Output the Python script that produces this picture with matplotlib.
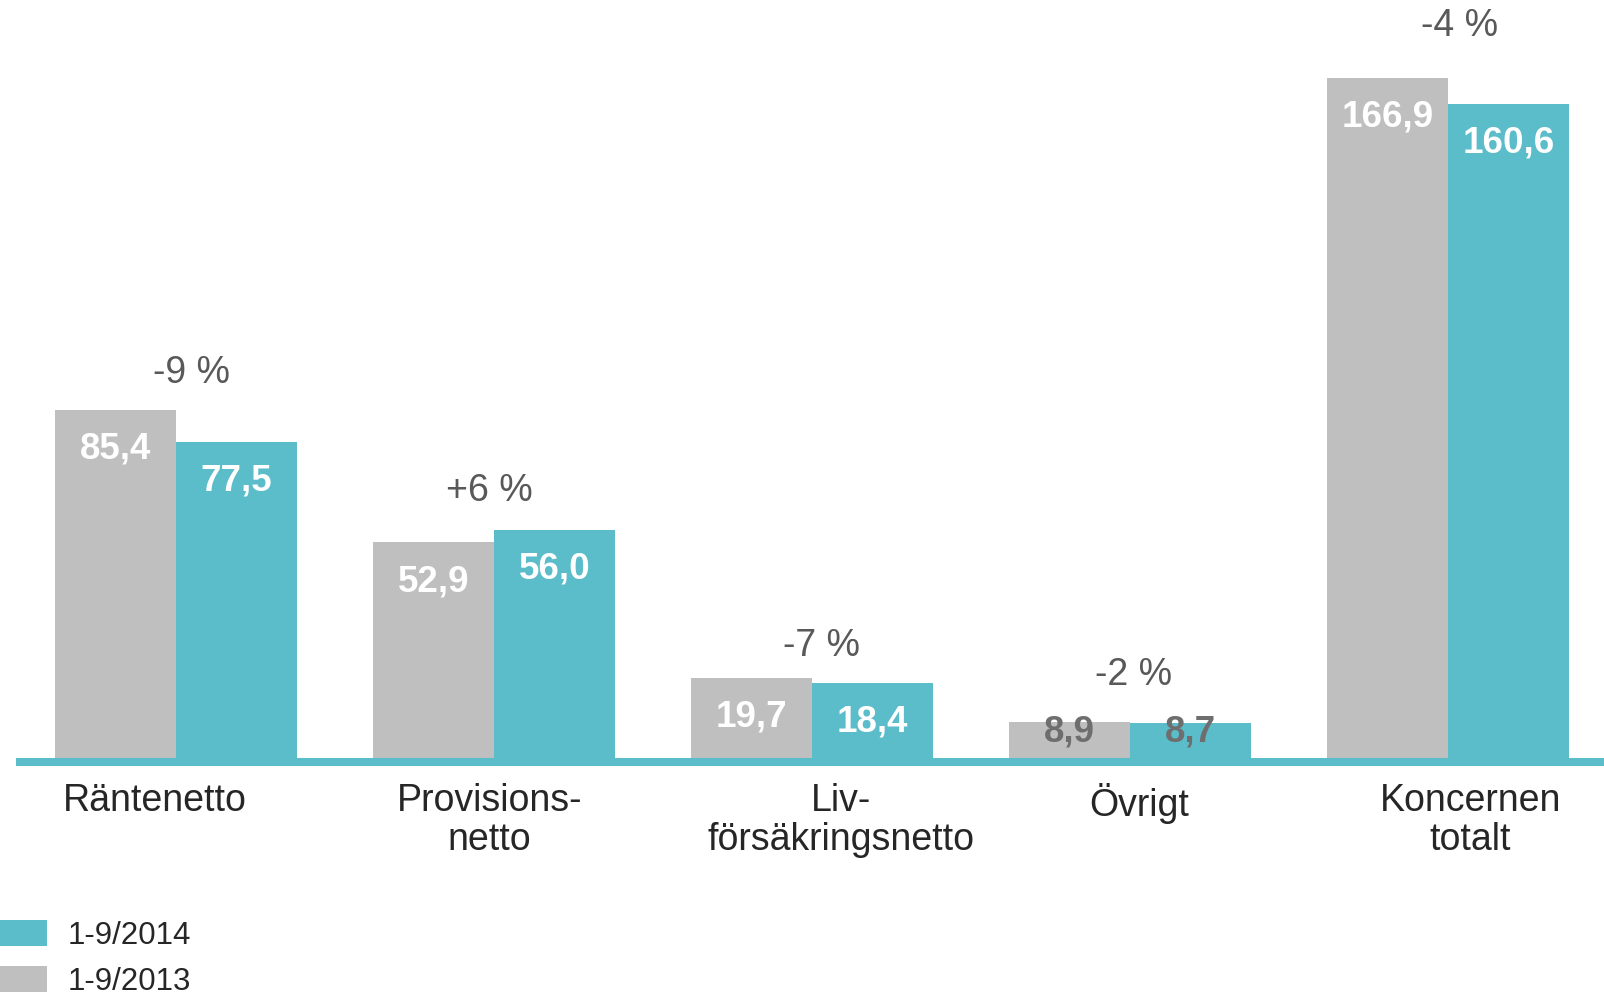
import matplotlib.pyplot as plt
import numpy as np

plt.rcParams['font.family'] = ['Liberation Sans', 'DejaVu Sans']

categories = ["Räntenetto", "Provisions-\nnetto", "Liv-\nförsäkringsnetto", "Övrigt", "Koncernen\ntotalt"]
values_2013 = [85.4, 52.9, 19.7, 8.9, 166.9]
values_2014 = [77.5, 56.0, 18.4, 8.7, 160.6]
changes = ["-9 %", "+6 %", "-7 %", "-2 %", "-4 %"]
series_names = ["1-9/2013", "1-9/2014"]

# layout tweaks (not data)
label_dx = [-0.065, -0.015, 0.09, 0.03, 0.07]
pct_dx = [0.05, -0.015, 0.03, 0.012, 0.035]
pct_gap = [9.0, 9.4, 7.9, 11.4, 12.7]

gray = "#BFBFBF"
teal = "#5BBCCA"

fig = plt.figure(figsize=(16.04, 9.93), dpi=100)
ax = fig.add_axes([16 / 1604, 235 / 993, 1588 / 1604, 758 / 993])

x = np.arange(len(categories))
w = 0.38
b13 = ax.bar(x - w / 2, values_2013, w, color=gray, label=series_names[0])
b14 = ax.bar(x + w / 2, values_2014, w, color=teal, label=series_names[1])

ax.set_xlim(-0.503, 4.49)
ax.set_ylim(0, 186.0)

# value labels inside bars
for bars, vals in ((b13, values_2013), (b14, values_2014)):
    for rect, v in zip(bars, vals):
        cx = rect.get_x() + rect.get_width() / 2
        y = max(v - 9.6, 6.4)
        col = "white" if v > 15 else "#6E6E6E"
        ax.text(cx, y, f"{v:.1f}".replace(".", ","), ha="center", va="center",
                fontsize=26.5, fontweight="bold", color=col)

# change labels above groups
for i, c in enumerate(changes):
    top = max(values_2013[i], values_2014[i])
    ax.text(x[i] + pct_dx[i], top + pct_gap[i], c, ha="center", va="center",
            fontsize=27, color="#595959", clip_on=False)

for s in ["top", "right", "left"]:
    ax.spines[s].set_visible(False)
ax.spines["bottom"].set_color(teal)
ax.spines["bottom"].set_linewidth(5.8)
ax.spines["bottom"].set_capstyle("butt")
ax.spines["bottom"].set_position(("outward", 2.9))
ax.set_yticks([])
ax.set_xticks(x + np.array(label_dx))
ax.set_xticklabels(categories, fontsize=27, color="#262626", linespacing=1.12)
ax.tick_params(axis="x", length=0, pad=15)

leg = fig.legend(handles=[b14, b13], labels=[series_names[1], series_names[0]],
                 loc="upper left", bbox_to_anchor=(0.0, 1 - 920 / 993),
                 frameon=False, fontsize=22.5, handlelength=1.5, handleheight=0.9,
                 handletextpad=0.68, labelspacing=0.5, borderpad=0, borderaxespad=0)
for t in leg.get_texts():
    t.set_color("#262626")

fig.savefig("out.png", dpi=100)
